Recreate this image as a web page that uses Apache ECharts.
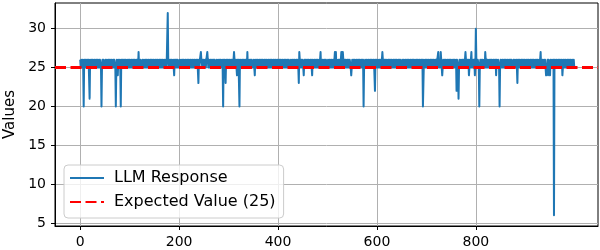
<!DOCTYPE html>
<html>
<head>
<meta charset="utf-8">
<script src="https://cdn.jsdelivr.net/npm/echarts@6/dist/echarts.min.js"></script>
<style>
html,body{margin:0;padding:0;background:#fff;}
#chart{width:600px;height:250px;}
</style>
</head>
<body>
<div id="chart"></div>
<script>
// LLM responses, one value per trial (index 0..999), read row by row (25 per row)
const llmResponses = [
26,25,26,26,25,26,25,20,26,25,26,25,26,26,25,26,25,26,26,21,26,26,25,26,25,
26,26,25,26,25,26,26,25,26,25,26,26,25,26,25,26,26,25,20,25,26,25,26,26,25,
25,26,26,25,26,26,25,26,25,26,26,25,26,25,26,26,25,26,25,26,26,25,20,25,26,
26,24,26,26,25,26,25,20,26,25,26,25,26,26,25,26,25,26,26,25,26,26,25,26,25,
26,26,25,26,25,26,26,25,26,25,26,26,25,26,25,26,26,25,27,25,26,25,26,26,25,
25,26,26,25,26,26,25,26,25,26,26,25,26,25,26,26,25,26,25,26,26,25,26,25,26,
26,25,26,26,25,26,25,26,26,25,26,25,26,26,25,26,25,26,26,25,26,26,25,26,25,
26,26,32,26,25,26,26,25,26,25,26,26,25,26,25,24,26,25,26,25,26,25,26,26,25,
25,26,26,25,26,26,25,26,25,26,26,25,26,25,26,26,25,26,25,26,26,25,26,25,26,
26,25,26,26,25,26,25,26,26,25,26,25,26,26,23,26,25,26,26,27,26,26,25,26,25,
26,26,25,26,25,26,26,27,26,25,26,26,25,26,25,26,26,25,26,25,26,25,26,26,25,
25,26,26,25,26,26,25,26,25,26,26,25,26,25,20,26,25,26,25,23,26,25,26,25,26,
26,25,26,26,25,26,25,26,26,25,26,27,26,26,25,26,25,24,26,25,26,26,20,26,25,
26,26,25,26,25,26,26,25,26,25,26,26,25,27,25,26,26,25,26,25,26,25,26,26,25,
25,26,26,24,26,26,25,26,25,26,26,25,26,25,26,26,25,26,25,26,26,25,26,25,26,
26,25,26,26,25,26,25,26,26,25,26,25,26,26,25,26,25,26,26,25,26,26,25,26,25,
26,26,25,26,25,26,26,25,26,25,26,26,25,26,25,26,26,25,26,25,26,25,26,26,25,
25,26,26,25,26,26,25,26,25,26,26,25,26,25,26,26,25,23,27,26,26,25,26,25,26,
26,25,24,26,25,26,25,26,26,25,26,25,26,26,25,26,25,26,26,24,26,26,25,26,25,
26,26,25,26,25,26,26,25,26,25,26,27,25,26,25,26,26,25,26,25,26,25,26,26,25,
25,26,26,25,26,26,25,26,25,26,26,25,26,25,26,27,25,27,25,26,26,25,26,25,26,
26,25,26,27,25,26,27,26,26,25,26,25,26,26,25,26,25,26,26,25,26,26,25,24,25,
26,26,25,26,25,26,26,25,26,25,26,26,25,26,25,26,26,25,26,25,26,25,26,20,25,
25,26,26,25,26,26,25,26,25,26,26,25,26,25,26,26,25,26,25,26,26,22,26,25,26,
26,25,26,26,25,26,25,26,26,25,26,27,26,26,25,26,25,26,26,25,26,26,25,26,25,
26,26,25,26,25,26,26,25,26,25,26,26,25,26,25,26,26,25,26,25,26,25,26,26,25,
25,26,26,25,26,26,25,26,25,26,26,25,26,25,26,26,25,26,25,26,26,25,26,25,26,
26,25,26,26,25,26,25,26,26,25,26,25,26,26,25,26,25,26,20,20,26,26,25,26,25,
26,26,25,26,25,26,26,25,26,25,26,26,25,26,25,26,26,25,26,25,26,25,26,26,27,
25,26,26,25,27,26,25,24,25,26,26,25,26,25,26,26,25,26,25,26,26,25,26,25,26,
26,25,26,26,25,26,25,26,26,25,26,22,26,26,25,21,25,26,26,25,26,26,25,26,25,
26,26,25,26,27,26,26,25,26,25,26,24,25,26,25,26,27,25,26,25,26,25,26,24,25,
30,26,26,25,26,26,25,20,25,26,26,25,26,25,26,26,25,26,25,27,26,25,26,25,26,
26,25,26,26,25,26,25,26,26,25,26,25,26,26,25,26,24,26,26,25,26,26,25,20,25,
26,26,25,26,25,26,26,25,26,25,26,26,25,26,25,26,26,25,26,25,26,25,26,26,25,
25,26,26,25,26,26,25,26,25,23,26,25,26,25,26,26,25,26,25,26,26,25,26,25,26,
26,25,26,26,25,26,25,26,26,25,26,25,26,26,25,26,25,26,26,25,26,26,25,26,25,
26,26,25,26,25,26,27,25,26,25,26,26,25,26,25,26,26,24,24,25,26,24,26,26,25,
24,26,26,25,26,26,25,26,6,26,26,25,26,25,26,26,25,26,25,26,26,25,26,25,26,
24,25,26,26,25,26,25,26,26,25,26,25,26,26,25,26,25,26,26,25,26,26,25,26,25
];
const expectedValue = 25;
const xTickValues = [0, 200, 400, 600, 800];
const yTickValues = [5, 10, 15, 20, 25, 30];
const seriesNames = ['LLM Response', 'Expected Value (25)'];
const yAxisTitle = 'Values';

const points = llmResponses.map((v, i) => [i, v]);
const font = 'DejaVu Sans';

const chart = echarts.init(document.getElementById('chart'), null, {renderer: 'canvas'});
chart.setOption({
  animation: false,
  backgroundColor: '#ffffff',
  grid: {
    left: 55, right: 2, top: 3, bottom: 24,
    containLabel: false, outerBoundsMode: 'none',
    show: true, borderColor: '#000', borderWidth: 1, backgroundColor: 'transparent'
  },
  legend: {
    orient: 'vertical',
    left: 64, top: 165,
    padding: [5, 8, 8, 5],
    itemGap: 8,
    itemWidth: 34, itemHeight: 16,
    backgroundColor: 'rgba(255,255,255,0.8)',
    borderColor: '#cccccc', borderWidth: 1, borderRadius: 4,
    selectedMode: false,
    itemStyle: {color: 'rgba(0,0,0,0)', borderWidth: 0, opacity: 0},
    textStyle: {fontFamily: font, fontSize: 16, color: '#000', padding: [0, 0, 0, 5]},
    data: seriesNames
  },
  xAxis: {
    type: 'value', min: -51, max: 1047,
    axisLine: {show: true, onZero: false, lineStyle: {color: '#000', width: 1}},
    axisTick: {show: true, length: 4, inside: false, customValues: xTickValues, lineStyle: {color: '#000'}},
    axisLabel: {customValues: xTickValues, fontFamily: font, fontSize: 14, color: '#000', margin: 9},
    splitLine: {show: true, lineStyle: {color: '#b0b0b0', width: 1}}
  },
  yAxis: {
    type: 'value', min: 4.62, max: 33.3,
    name: yAxisTitle, nameLocation: 'middle', nameRotate: 90, nameGap: 37,
    nameTextStyle: {fontFamily: font, fontSize: 15, color: '#000'},
    axisLine: {show: true, onZero: false, lineStyle: {color: '#000', width: 1}},
    axisTick: {show: true, length: 4, inside: false, customValues: yTickValues, lineStyle: {color: '#000'}},
    axisLabel: {customValues: yTickValues, fontFamily: font, fontSize: 14, color: '#000', margin: 9},
    splitLine: {show: true, lineStyle: {color: '#b0b0b0', width: 1}}
  },
  series: [
    {
      name: seriesNames[0], type: 'line', data: points,
      symbol: 'none', showSymbol: false, sampling: null,
      lineStyle: {color: '#1f77b4', width: 2, join: 'round'},
      itemStyle: {color: '#1f77b4'},
      z: 2
    },
    {
      name: seriesNames[1], type: 'line', data: [],
      symbol: 'none',
      lineStyle: {color: '#ff0000', width: 2.8, type: [11, 4.5]},
      itemStyle: {color: '#ff0000'},
      markLine: {
        silent: true, symbol: 'none', label: {show: false},
        lineStyle: {color: '#ff0000', width: 2.8, type: [11, 4.5]},
        emphasis: {disabled: true},
        data: [{yAxis: expectedValue}]
      },
      z: 3
    }
  ]
});
</script>
</body>
</html>
